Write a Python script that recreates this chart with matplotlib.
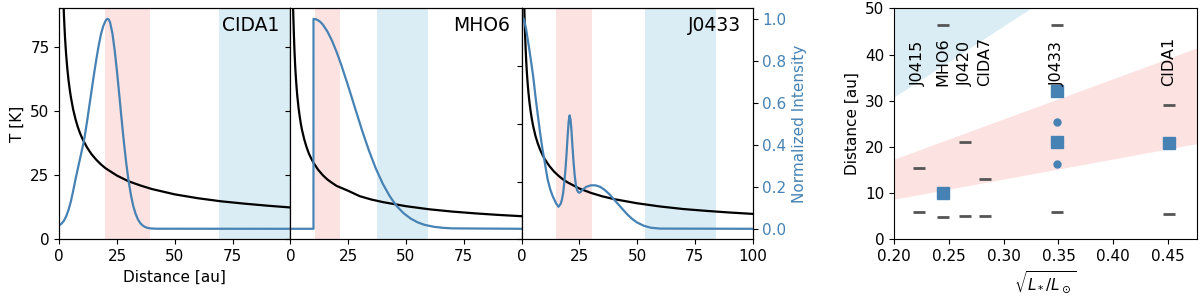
import numpy as np
import matplotlib
matplotlib.use("Agg")
import matplotlib.pyplot as plt

plt.rcParams["font.size"] = 11

# ---- temperature profiles ----
r_T = [1.0, 1.1, 1.2, 1.35, 1.5, 1.75, 2, 2.25, 2.5, 2.75, 3, 3.5, 4, 4.5, 5, 6, 7, 8, 9, 10,
       12, 14, 16, 18, 20, 25, 30, 35, 40, 50, 60, 70, 80, 90, 100]
T_cida1 = [124, 118.2, 113.2, 106.7, 101.2, 93.7, 87.7, 82.7, 78.4, 74.8, 71.6, 66.3, 62, 58.5, 55.5,
           50.6, 46.9, 43.8, 41.3, 39.2, 35.8, 33.1, 31.0, 29.2, 27.7, 24.8, 22.6, 21.0, 19.6, 17.5,
           16.0, 14.8, 13.9, 13.1, 12.4]
T_mho6 = [98.7, 93.9, 89, 84.4, 80, 73.8, 68.8, 64.7, 61.3, 58.3, 55.7, 51.4, 48, 45.1, 42.7,
          38.9, 35.9, 33.4, 31.5, 29.8, 27.1, 25.0, 23.3, 22.0, 20.8, 18.9, 16.8, 15.5, 14.5, 12.9,
          11.7, 10.8, 10.1, 9.5, 9.0]
T_j0433 = [110, 104.9, 100.4, 94.7, 89.8, 83.2, 77.8, 73.3, 69.6, 66.3, 63.5, 58.8, 55, 51.9, 49.2,
           44.9, 41.6, 38.9, 36.7, 34.8, 31.8, 29.4, 27.5, 25.9, 24.6, 22.0, 20.1, 18.6, 17.4, 15.6,
           14.2, 13.1, 12.3, 11.6, 11.0]

# ---- normalized intensity profiles ----
r_cida1 = [0, 1, 2, 3, 4, 5, 6, 7, 8, 9, 10, 10.5, 11, 12, 13, 14, 15, 16, 17, 18, 19, 20, 20.5,
           21, 21.5, 22, 23, 24, 25, 26, 27, 28, 29, 30, 31, 32, 33, 34, 35, 36, 37, 38, 39, 40,
           42, 100]
I_cida1 = [0.016, 0.025, 0.038, 0.06, 0.09, 0.13, 0.18, 0.235, 0.285, 0.335, 0.385, 0.41, 0.44,
           0.51, 0.585, 0.66, 0.735, 0.805, 0.87, 0.925, 0.965, 0.99, 0.998, 1.0, 0.995, 0.982,
           0.93, 0.848, 0.746, 0.633, 0.518, 0.408, 0.31, 0.227, 0.161, 0.109, 0.072, 0.0455,
           0.0278, 0.0164, 0.0093, 0.005, 0.0027, 0.0014, 0.0003, 0.0]

r_mho6 = [0, 9.99, 10, 11, 12, 13, 14, 16, 18, 20, 22, 25, 28, 31, 34, 37, 40, 43, 46, 49, 52, 55,
          58, 62, 66, 70, 100]
I_mho6 = [0, 0, 1.0, 0.998, 0.993, 0.985, 0.973, 0.94, 0.896, 0.842, 0.781, 0.68, 0.574, 0.469,
          0.372, 0.286, 0.214, 0.155, 0.108, 0.074, 0.049, 0.031, 0.019, 0.0097, 0.0046, 0.002, 0.0]

r_j0433 = [0.5, 1, 2, 3.3, 5, 6.2, 8, 9.1, 10, 11.3, 12.5, 13.5, 15, 16, 17, 17.5, 18, 18.5, 19,
           19.5, 20, 20.4, 20.8, 21.2, 21.6, 22, 22.5, 23, 23.5, 24, 24.5, 25, 25.5, 26, 28, 30,
           32, 34, 36, 38, 40, 42, 44, 46, 48, 50, 53, 56, 60, 100]
I_j0433 = [0.99, 1.0, 0.95, 0.86, 0.73, 0.615, 0.46, 0.377, 0.32, 0.235, 0.185, 0.155, 0.12, 0.105,
           0.12, 0.14, 0.17, 0.22, 0.28, 0.36, 0.45, 0.51, 0.54, 0.52, 0.47, 0.40, 0.32, 0.255,
           0.21, 0.185, 0.175, 0.172, 0.175, 0.182, 0.2, 0.207, 0.207, 0.2, 0.185, 0.165, 0.14,
           0.115, 0.09, 0.066, 0.046, 0.03, 0.014, 0.005, 0.001, 0.0]

# shaded ranges [au]
pink_cida1, blue_cida1 = (19.6, 39.2), (69.2, 100)
pink_mho6, blue_mho6 = (10.5, 21.5), (37.4, 59.4)
pink_j0433, blue_j0433 = (14.9, 30.4), (53.3, 84.1)

# ---- right panel ----
names = ["J0415", "MHO6", "J0420", "CIDA7", "J0433", "CIDA1"]
lum = [0.2225, 0.245, 0.2647, 0.283, 0.3488, 0.4505]
dash_x = [0.2225, 0.2225, 0.245, 0.245, 0.2647, 0.2647, 0.283, 0.283, 0.3488, 0.3488, 0.4505, 0.4505]
dash_y = [15.4, 5.9, 46.4, 4.8, 21.0, 5.1, 13.0, 5.1, 46.3, 5.9, 29.1, 5.5]
sq_x = [0.245, 0.3488, 0.3488, 0.4505]
sq_y = [10.0, 32.0, 21.0, 20.8]
dot_x = [0.3488, 0.3488]
dot_y = [25.3, 16.2]
band_x = [0.15, 0.5]
pink_lo = [6.5, 21.75]
pink_hi = [13.0, 43.5]
blue_lo = [23.1, 77.0]

pink = "#fde2e2"
lblue = "#dbedf4"
line_blue = "#4682b4"

fig = plt.figure(figsize=(12, 2.98), dpi=100)

panels = [
    ("CIDA1", T_cida1, r_cida1, I_cida1, pink_cida1, blue_cida1, 90),
    ("MHO6", T_mho6, r_mho6, I_mho6, pink_mho6, blue_mho6, 90),
    ("J0433", T_j0433, r_j0433, I_j0433, pink_j0433, blue_j0433, 100),
]

left0 = 0.0494
w = 0.1926
bot = 0.197
h = 0.775

for i, (name, T, r_I, I, pk, bl, ytop) in enumerate(panels):
    ax = fig.add_axes([left0 + i * w, bot, w, h])
    ax.axvspan(pk[0], pk[1], color=pink, lw=0)
    ax.axvspan(bl[0], bl[1], color=lblue, lw=0)
    ax.plot(r_T, T, color="black", lw=1.6)
    ax.set_xlim(0, 100)
    ax.set_ylim(0, ytop)
    ax.set_yticks([0, 25, 50, 75])
    if i < 2:
        ax.set_xticks([0, 25, 50, 75])
    else:
        ax.set_xticks([0, 25, 50, 75, 100])
    if i == 0:
        ax.set_ylabel("T [K]")
        ax.set_xlabel("Distance [au]")
    else:
        ax.set_yticklabels([])
    ax.text(0.952, 0.965, name, transform=ax.transAxes, ha="right", va="top", fontsize=13.5)

    ax2 = ax.twinx()
    ax2.plot(r_I, I, color=line_blue, lw=1.6)
    ax2.set_ylim(-0.05, 1.05)
    ax2.set_yticks([0, 0.2, 0.4, 0.6, 0.8, 1.0])
    if i < 2:
        ax2.set_yticklabels([])
    else:
        ax2.tick_params(axis="y", labelcolor=line_blue)
        ax2.set_ylabel("Normalized Intensity", color=line_blue)

# right panel
axr = fig.add_axes([0.745, bot, 0.2522, h])
axr.fill_between(band_x, blue_lo, [80, 80], color=lblue, lw=0)
axr.fill_between(band_x, pink_lo, pink_hi, color=pink, lw=0)
axr.plot(dash_x, dash_y, ls="none", marker="_", color="#555555", ms=8, mew=2)
axr.plot(sq_x, sq_y, ls="none", marker="s", color=line_blue, ms=9)
axr.plot(dot_x, dot_y, ls="none", marker="o", color=line_blue, ms=5)
for n, xv in zip(names, lum):
    axr.text(xv, 33.2, n, rotation=90, ha="center", va="bottom", fontsize=11.5)
axr.set_xlim(0.2, 0.476)
axr.set_ylim(0, 50)
axr.set_xticks([0.2, 0.25, 0.3, 0.35, 0.4, 0.45])
axr.set_yticks([0, 10, 20, 30, 40, 50])
axr.set_xlabel(r"$\sqrt{L_*/L_\odot}$")
axr.set_ylabel("Distance [au]")

fig.savefig("out.png", dpi=100)
